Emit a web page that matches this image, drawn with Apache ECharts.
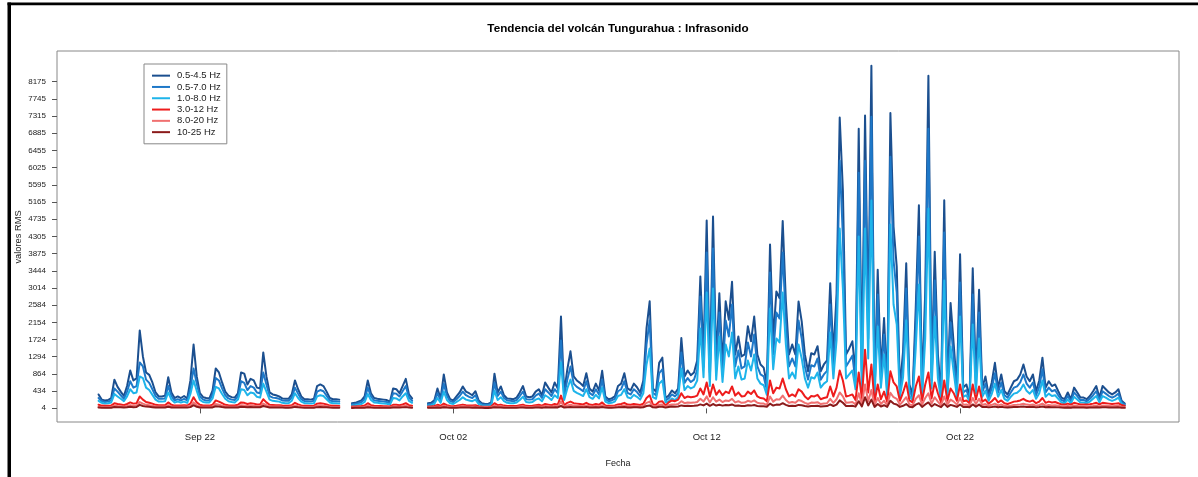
<!DOCTYPE html>
<html><head><meta charset="utf-8">
<script src="https://cdn.jsdelivr.net/npm/echarts@6/dist/echarts.min.js"></script>
<style>html,body{margin:0;padding:0;background:#fff}#c{width:1198px;height:477px}</style>
</head><body><div id="c"></div>
<script>
const FONT = "'Liberation Sans', Arial, sans-serif";
const seriesNames = ['0.5-4.5 Hz','0.5-7.0 Hz','1.0-8.0 Hz','3.0-12 Hz','8.0-20 Hz','10-25 Hz'];
const seriesColors = ['#1B4F8F','#1E78C8','#1EB4EA','#EE1C1C','#F07070','#8B1A1A'];
const startDay = 17;      // Sep 18 00:00 (days counted from Sep 1)
const stepHours = 3;
const xTickValues = [21, 31, 41, 51];
const xTickLabels = ['Sep 22', 'Oct 02', 'Oct 12', 'Oct 22'];
const yTickValues = [4,434,864,1294,1724,2154,2584,3014,3444,3875,4305,4735,5165,5595,6025,6455,6885,7315,7745,8175];

const s0545 = [350,220,200,210,260,720,540,420,310,560,950,700,750,1950,1300,900,840,650,400,300,300,320,780,400,260,300,260,310,250,700,1600,800,380,280,260,250,450,1000,900,650,420,320,280,270,380,900,870,600,740,700,520,500,1400,800,400,350,330,300,250,240,240,350,700,480,300,230,230,220,240,560,600,560,420,260,230,230,220,
null,null,null,
130,140,170,200,300,700,380,260,240,230,220,210,170,500,480,380,560,740,350,250,
null,null,null,null,
130,140,200,500,250,850,400,230,200,300,400,550,420,380,330,430,200,130,110,110,150,870,400,550,330,250,240,230,270,400,560,300,280,300,420,480,330,650,520,400,650,500,2300,400,975,1430,
800,700,640,560,880,500,420,620,450,940,300,230,250,300,560,620,880,500,450,620,530,400,700,2000,2680,500,420,1140,1270,260,320,450,380,500,1760,800,950,830,900,1200,3300,1300,4700,900,4800,1200,2880,1100,2680,2220,
3170,1350,1800,1300,1350,2056,1680,2300,1350,1100,1020,600,4100,1720,2926,2760,4690,2680,1350,1600,1350,2677,2180,1350,930,1380,1350,1556,930,1100,1200,3135,1350,2844,7280,5460,1350,1500,1680,850,7000,930,7327,2180,8573,520,3467,930,2263,520,7390,4545,3548,
520,1430,3633,600,350,2512,5086,520,2926,8324,900,3920,1350,350,5210,520,2640,1600,520,3855,520,600,300,3508,700,2968,520,800,350,650,1140,520,850,430,350,520,680,720,850,1100,800,680,850,430,700,1270,520,680,560,600,430,270,230,400,230,520,400,270,270,230,310,430,560,270,560,480,400,350,400,480,190,120];

const s0570 = [260,180,160,170,200,500,420,330,240,420,680,520,560,1150,1050,720,640,480,310,240,240,250,560,310,200,230,200,240,200,500,1000,620,300,220,200,200,350,760,700,500,330,250,220,210,300,680,640,460,560,520,400,380,900,600,310,270,260,240,200,190,190,270,520,370,230,180,180,170,190,420,460,430,320,200,180,180,170,
null,null,null,
100,110,130,160,230,520,300,200,190,180,170,160,130,380,370,300,430,560,270,190,
null,null,null,null,
100,110,160,380,200,620,310,180,160,230,310,420,330,290,260,330,160,100,90,90,120,640,310,420,260,200,190,180,210,310,420,230,220,230,320,370,260,480,400,310,480,380,1700,310,720,1050,
620,540,490,430,680,390,330,480,350,720,240,180,200,240,430,480,680,390,350,480,410,310,540,1600,2200,390,330,880,980,200,250,350,300,390,1400,640,760,660,720,960,2800,1040,3900,720,4000,960,2400,880,2200,1800,
2600,1050,1450,1000,1050,1650,1300,1850,1050,850,800,460,3400,1350,2400,2250,3900,2200,1050,1250,1050,2200,1750,1050,720,1080,1050,1250,720,850,940,2600,1050,2350,6200,4300,1050,1180,1320,660,5900,720,6200,1750,7300,400,2850,720,1850,400,6300,3700,2900,
400,1100,3000,460,270,2050,4300,400,2400,7000,700,3200,1050,270,4400,400,2150,1250,400,3150,400,460,230,2850,540,2400,400,620,270,500,880,400,650,330,270,400,520,550,650,850,620,520,650,330,540,980,400,520,430,460,330,210,180,310,180,400,310,210,210,180,240,330,430,210,430,370,310,270,310,370,150,95];

const s1080 = [190,140,120,130,150,360,300,240,180,300,480,380,400,800,760,520,460,340,220,170,170,180,400,220,150,170,150,170,140,360,700,440,210,160,150,150,250,540,500,360,240,180,160,150,220,480,460,330,400,380,290,270,620,420,220,190,180,170,140,130,130,190,380,260,170,130,130,120,130,300,330,310,230,150,130,130,120,
null,null,null,
70,80,95,110,160,360,210,150,140,130,120,115,95,260,250,200,300,380,190,140,
null,null,null,null,
70,80,110,260,140,420,210,130,110,160,210,280,220,200,180,220,110,75,65,65,85,440,210,280,180,140,130,130,150,210,290,160,150,160,220,250,180,330,280,210,330,260,1150,210,500,720,
440,390,350,310,480,280,240,340,250,520,170,130,140,170,310,340,480,280,250,340,290,220,380,1100,1500,280,240,620,700,150,180,250,210,280,1000,460,560,500,540,700,2000,780,2900,560,3000,720,1800,660,1600,1300,
1900,750,1050,720,750,1200,950,1350,750,620,580,340,2500,980,1750,1650,2900,1600,750,900,750,1600,1250,750,520,780,750,900,520,620,680,1900,750,1700,4500,3000,750,850,950,480,4300,520,4500,1250,5200,290,2050,520,1350,290,4600,2600,2100,
290,780,2200,330,190,1500,3100,290,1750,5000,500,2300,750,190,3200,290,1550,900,290,2300,290,330,170,2100,380,1750,290,440,190,360,620,290,460,240,190,290,370,390,460,600,440,370,460,240,380,700,290,370,310,330,240,150,130,220,130,290,220,150,150,130,170,240,310,150,310,270,220,190,220,270,110,70];

const s3012 = [90,70,65,65,70,130,110,100,80,110,150,120,130,300,220,160,140,120,90,80,80,80,150,90,70,75,70,80,70,120,280,150,90,75,70,70,90,200,170,130,90,80,75,75,90,150,140,110,130,120,100,100,230,150,90,85,80,80,70,65,65,80,140,100,75,65,65,60,65,120,130,120,100,70,65,65,60,
null,null,null,
45,50,55,60,70,130,80,65,60,60,55,55,50,90,90,80,100,130,80,65,
null,null,null,null,
50,50,60,90,65,120,80,60,55,65,80,95,80,75,70,80,55,45,42,42,50,130,80,95,70,60,60,58,62,80,95,65,62,65,80,90,70,110,95,80,110,95,320,80,140,170,
130,120,110,100,140,95,85,110,90,150,75,65,68,75,100,110,140,95,90,110,100,85,120,260,330,100,90,170,180,70,150,200,180,220,380,260,300,280,290,320,500,350,650,300,600,340,450,330,420,380,
550,320,400,300,310,420,360,450,300,260,250,180,700,380,520,500,750,480,300,350,300,480,420,300,230,310,300,340,230,260,280,550,300,520,950,700,300,320,350,210,900,230,1470,400,1100,160,600,230,420,160,930,650,550,
190,400,650,200,150,550,800,190,600,900,250,650,380,150,700,190,500,380,190,600,180,200,130,600,220,550,170,220,120,180,260,150,200,130,110,140,170,180,200,240,190,170,200,130,170,260,140,170,150,160,130,100,95,120,95,140,120,100,100,95,105,120,140,100,140,130,120,110,120,130,85,70];

const s0820 = [40,35,32,32,35,70,60,55,45,60,80,65,70,160,120,90,80,65,50,45,45,45,80,50,40,42,40,45,40,65,150,80,50,42,40,40,50,110,95,70,50,45,42,42,50,80,75,60,70,65,55,55,120,80,50,48,45,45,40,38,38,45,75,55,42,38,38,35,38,65,70,65,55,40,38,38,35,
null,null,null,
25,28,30,32,38,65,42,35,33,32,30,30,28,50,48,42,55,65,42,35,
null,null,null,null,
30,30,35,50,38,65,45,35,32,38,45,52,45,42,40,45,32,28,26,26,30,70,45,52,40,35,35,34,36,45,52,38,36,38,45,50,40,60,52,45,60,52,170,45,75,90,
70,65,60,55,75,52,48,60,50,80,42,38,40,42,55,60,75,52,50,60,55,48,65,140,170,55,50,90,95,40,80,100,95,110,180,130,150,140,145,160,240,170,300,150,280,170,220,160,200,185,
240,150,180,140,145,190,165,200,140,125,120,90,300,170,230,220,320,210,140,160,140,210,185,140,110,145,140,155,110,125,130,240,140,230,400,300,140,150,160,100,380,110,600,180,460,80,260,110,190,80,390,280,240,
95,180,280,100,80,240,330,95,260,380,120,280,170,80,300,95,220,170,95,260,90,100,70,260,110,240,85,110,65,90,120,75,100,65,55,70,85,90,100,115,95,85,100,65,85,120,70,85,75,80,65,50,48,60,48,70,60,50,50,48,52,60,70,50,70,65,60,55,60,65,42,35];

const s1025 = [20,18,16,16,18,35,30,28,22,30,40,32,35,90,60,45,40,32,25,22,22,22,40,25,20,21,20,22,20,32,80,40,25,21,20,20,25,55,48,35,25,22,21,21,25,40,38,30,35,32,28,28,60,40,25,24,22,22,20,19,19,22,38,28,21,19,19,18,19,32,35,32,28,20,19,19,18,
null,null,null,
12,14,15,16,18,30,20,17,16,16,15,15,14,25,24,21,26,32,20,17,
null,null,null,null,
15,15,17,22,18,28,20,17,16,18,20,24,21,20,19,21,16,14,13,13,15,30,20,24,19,17,17,17,18,20,24,18,18,18,20,22,19,26,24,20,26,24,60,20,30,35,
32,30,28,26,34,25,23,28,24,36,20,18,19,20,26,28,34,25,24,28,26,23,30,60,75,26,24,40,42,20,35,45,42,48,75,58,65,62,64,70,100,75,120,65,110,72,90,70,85,78,
100,65,75,60,62,80,70,85,60,55,52,42,120,72,95,90,130,88,60,66,60,88,80,60,48,62,60,65,48,55,58,100,60,95,200,140,60,62,66,45,180,48,280,75,220,38,110,48,80,38,190,120,100,
38,65,110,40,32,95,130,38,100,150,48,110,68,32,120,38,88,68,38,100,36,40,28,100,44,95,34,44,26,36,50,30,40,26,22,28,34,36,40,46,38,34,40,26,34,50,28,34,30,32,26,20,19,24,19,28,24,20,20,19,21,24,28,20,28,26,24,22,24,26,17,14];

const allValues = [s0545, s0570, s1080, s3012, s0820, s1025];

const chart = echarts.init(document.getElementById('c'), null, {renderer: 'canvas'});
const series = allValues.map((vals, k) => ({
  name: seriesNames[k],
  type: 'line',
  data: vals.map((v, i) => [startDay + i * stepHours / 24, v]),
  showSymbol: false,
  connectNulls: false,
  color: seriesColors[k],
  lineStyle: {width: 2, color: seriesColors[k], cap: 'round', join: 'round'},
  emphasis: {disabled: true},
  silent: true,
  animation: false
}));

chart.setOption({
  animation: false,
  backgroundColor: '#fff',
  textStyle: {fontFamily: FONT},
  grid: {left: 57, top: 51, width: 1122, height: 371, show: true, borderColor: '#888', borderWidth: 1, containLabel: false},
  legend: {
    orient: 'vertical', left: 144, top: 64, icon: 'rect', itemWidth: 18, itemHeight: 2, itemGap: 0,
    padding: [6, 6, 6, 8], borderColor: '#888', borderWidth: 1, backgroundColor: '#fff',
    selectedMode: false,
    textStyle: {fontSize: 9.5, lineHeight: 11.3, color: '#222', fontFamily: FONT, padding: [0, 0, 0, 2]},
    data: seriesNames
  },
  xAxis: {
    type: 'value', min: 15.36, max: 59.64,
    axisLine: {show: false},
    axisTick: {show: true, customValues: xTickValues, length: 5, lineStyle: {color: '#555'}},
    axisLabel: {customValues: xTickValues, formatter: v => xTickLabels[xTickValues.indexOf(v)], fontSize: 9.5, color: '#222', margin: 10, fontFamily: FONT},
    splitLine: {show: false},
    name: 'Fecha', nameLocation: 'middle', nameGap: 37,
    nameTextStyle: {fontSize: 9, color: '#222', fontFamily: FONT}
  },
  yAxis: {
    type: 'value', min: -340, max: 8944,
    axisLine: {show: false},
    axisTick: {show: true, customValues: yTickValues, length: 5, lineStyle: {color: '#555'}},
    axisLabel: {customValues: yTickValues, formatter: v => String(v), fontSize: 8, color: '#222', margin: 11, fontFamily: FONT},
    splitLine: {show: false}
  },
  graphic: [
    {type: 'rect', shape: {x: 7.5, y: 2.5, width: 3.5, height: 475}, style: {fill: '#000'}, silent: true},
    {type: 'rect', shape: {x: 7.5, y: 2.5, width: 1191, height: 2.8}, style: {fill: '#000'}, silent: true},
    {type: 'text', x: 618, y: 29, silent: true,
     style: {text: 'Tendencia del volcán Tungurahua : Infrasonido', fontSize: 11.7, fontWeight: 'bold', fontFamily: FONT, fill: '#000', textAlign: 'center', textVerticalAlign: 'middle'}},
    {type: 'text', x: 18, y: 237, rotation: Math.PI / 2, silent: true,
     style: {text: 'valores RMS', fontSize: 9.3, fontFamily: FONT, fill: '#222', textAlign: 'center', textVerticalAlign: 'middle'}}
  ],
  series: series
});
</script>
</body></html>
